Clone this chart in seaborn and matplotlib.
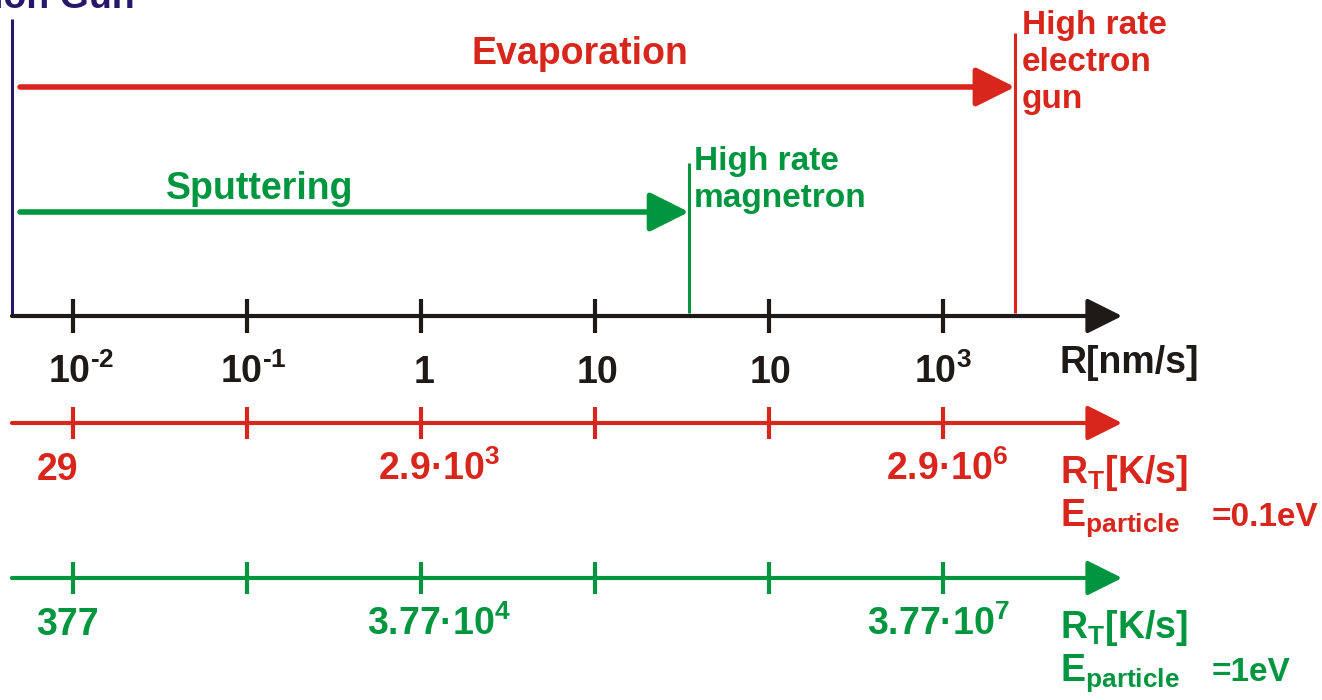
import numpy as np
import matplotlib
matplotlib.use("Agg")
import matplotlib.pyplot as plt
import seaborn as sns

# ── Data ──────────────────────────────────────────────────────────────
# deposition rate axis R [nm/s] (labels copied as printed in the figure)
RATE_TICKS = [1e-2, 1e-1, 1, 10, 100, 1e3]
RATE_LABELS = [r"10$^{\text{-}2}$", r"10$^{\text{-}1}$", "1", "10", "10", r"10$^{3}$"]

# heating rate R_T [K/s], labelled only at three of the ticks
HEAT_TICKS = [1e-2, 1, 1e3]
HEAT_LABELS_01EV = ["29", r"2.9·10$^{3}$", r"2.9·10$^{6}$"]
HEAT_LABELS_1EV = ["377", r"3.77·10$^{4}$", r"3.77·10$^{7}$"]

# upper rate limits of the sources [nm/s]
ION_GUN_RATE = 4.46e-3
MAGNETRON_RATE = 34.7
EGUN_RATE = 2590
AXIS_END = 1.07e4
ARROW_START = 4.96e-3

RED = "#d9261c"
GREEN = "#00963f"
BLACK = "#1d1a17"
NAVY = "#27176b"

sns.set_style("white")
plt.rcParams["font.family"] = ["Liberation Sans", "DejaVu Sans"]
plt.rcParams["font.weight"] = "bold"
plt.rcParams["mathtext.fontset"] = "custom"
plt.rcParams["mathtext.rm"] = "Liberation Sans:bold"
plt.rcParams["mathtext.it"] = "Liberation Sans:bold"
plt.rcParams["mathtext.bf"] = "Liberation Sans:bold"

PX0, PX_DEC = 421, 174  # pixel of R=1 and pixels per decade

# small horizontal nudges (px) of the tick labels, as in the drawing
RATE_SHIFT = [8, 6, 3, 2, 2, 0]
HEAT_SHIFT_01EV = [-16, 18, 4]
HEAT_SHIFT_1EV = [-6, 18, -4]


def at(px):
    """Rate value sitting at a given horizontal pixel position."""
    return 10 ** ((px - PX0) / PX_DEC)


def shifted(r, dpx):
    return r * 10 ** (dpx / PX_DEC)


def arrow(ax, x0, x1, y, color, lw, scale):
    ax.annotate("", xy=(x1, y), xytext=(x0, y),
                arrowprops=dict(arrowstyle="-|>,head_length=0.6,head_width=0.3",
                                color=color, lw=lw, mutation_scale=scale,
                                shrinkA=0, shrinkB=0))


def axis_row(ax, y, color, half):
    arrow(ax, ION_GUN_RATE, AXIS_END, y, color, 3.0, 36)
    ax.vlines(RATE_TICKS, y - half, y + half, color=color, lw=3.0)


fig = plt.figure(figsize=(13.22, 7), dpi=100)
ax = fig.add_axes([0, 0, 1, 1])
ax.set_xscale("log")
ax.set_xlim(at(0), at(1322))
ax.set_ylim(700, 0)
ax.axis("off")

FS = 27

# source ranges
arrow(ax, ARROW_START, EGUN_RATE, 87, RED, 4.0, 40)
arrow(ax, ARROW_START, MAGNETRON_RATE, 212, GREEN, 4.0, 40)
ax.vlines(ION_GUN_RATE, 19, 316, color=NAVY, lw=2.2)
ax.vlines(EGUN_RATE, 33, 313, color=RED, lw=2.2)
ax.vlines(MAGNETRON_RATE, 163, 313, color=GREEN, lw=2.2)

ax.text(at(-7), 8, "Ion Gun", color=NAVY, fontsize=FS, ha="left", va="baseline")
ax.text(at(580), 64, "Evaporation", color=RED, fontsize=FS, ha="center", va="baseline")
ax.text(at(260), 199, "Sputtering", color=GREEN, fontsize=FS, ha="center", va="baseline")
ax.text(at(694), 170, "High rate", color=GREEN, fontsize=24, ha="left", va="baseline")
ax.text(at(694), 207, "magnetron", color=GREEN, fontsize=24, ha="left", va="baseline")
for i, line in enumerate(["High rate", "electron", "gun"]):
    ax.text(at(1022), 34 + 37 * i, line, color=RED, fontsize=24, ha="left", va="baseline")

# rate axis
axis_row(ax, 316, BLACK, 17)
for r, lab, d in zip(RATE_TICKS, RATE_LABELS, RATE_SHIFT):
    ax.text(shifted(r, d), 383, lab, color=BLACK, fontsize=FS, ha="center", va="baseline")
ax.text(at(1060), 373, "R[nm/s]", color=BLACK, fontsize=FS, ha="left", va="baseline")

# heating rate axes
for y, color, labels, shifts, energy in [
        (423, RED, HEAT_LABELS_01EV, HEAT_SHIFT_01EV, "=0.1eV"),
        (578, GREEN, HEAT_LABELS_1EV, HEAT_SHIFT_1EV, "=1eV")]:
    axis_row(ax, y, color, 16)
    for r, lab, d in zip(HEAT_TICKS, labels, shifts):
        ax.text(shifted(r, d), y + 57, lab, color=color, fontsize=FS,
                ha="center", va="baseline")
    ax.text(at(1060), y + 60, r"R$_{\mathrm{T}}$[K/s]", color=color, fontsize=FS,
            ha="left", va="baseline")
    ax.text(at(1060), y + 103, r"E$_{\mathrm{particle}}$", color=color,
            fontsize=FS, ha="left", va="baseline")
    ax.text(at(1212), y + 103, energy, color=color, fontsize=24,
            ha="left", va="baseline")

fig.savefig("out.png", dpi=100)
